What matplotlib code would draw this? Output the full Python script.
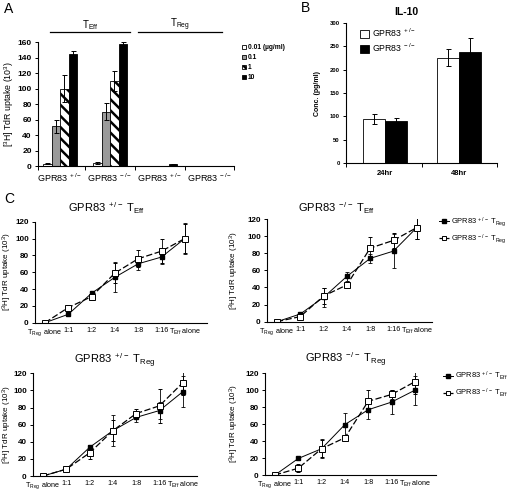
import numpy as np
import matplotlib.pyplot as plt
from matplotlib.lines import Line2D

plt.rcParams['font.family'] = ['Liberation Sans', 'DejaVu Sans']
plt.rcParams['mathtext.fontset'] = 'custom'
plt.rcParams['mathtext.rm'] = 'Liberation Sans'
plt.rcParams['mathtext.it'] = 'Liberation Sans:italic'
plt.rcParams['mathtext.bf'] = 'Liberation Sans:bold'
plt.rcParams['hatch.linewidth'] = 1.8
plt.rcParams['axes.linewidth'] = 0.8

# ---- panel A data
a_groups = [r'GPR83$^{\ +/-}$', r'GPR83$^{\ -/-}$', r'GPR83$^{\ +/-}$', r'GPR83$^{\ -/-}$']
a_doses = ['0.01 (µg/ml)', '0.1', '1', '10']
a_d001 = [3, 4, 0.4, 0.3]
a_d001_err = [1, 1, 0, 0]
a_d01 = [51, 70, 0.5, 0.3]
a_d01_err = [9, 11, 0, 0]
a_d1 = [100, 110, 0.6, 0.4]
a_d1_err = [17, 13, 0, 0]
a_d10 = [144, 157, 2, 0.5]
a_d10_err = [4, 3, 1, 0]

# ---- panel B data
b_times = ['24hr', '48hr']
b_het = [95, 226]
b_het_err = [11, 19]
b_ko = [89, 237]
b_ko_err = [7, 30]

# ---- panel C data
c_ratios = [r'T$_{\rm Reg}$ alone', '1:1', '1:2', '1:4', '1:8', '1:16', r'T$_{\rm Eff}$ alone']

c1_title = r'GPR83$^{\ +/-}$ T$_{\rm Eff}$'
c1_fill = [0, 10, 35, 54, 70, 78, 100]
c1_fill_err = [0.5, 2, 2, 18, 7, 8, 18]
c1_open = [0, 18, 31, 59, 76, 85, 100]
c1_open_err = [0.5, 3, 4, 12, 10, 14, 17]

c2_title = r'GPR83$^{\ -/-}$ T$_{\rm Eff}$'
c2_fill = [0, 9, 28.5, 53, 74, 82.5, 110]
c2_fill_err = [0.5, 2, 11, 5, 5, 20, 13]
c2_open = [0, 6, 30, 43, 86, 95, 110]
c2_open_err = [0.5, 2, 9, 3, 13, 8.5, 13]

c3_title = r'GPR83$^{\ +/-}$ T$_{\rm Reg}$'
c3_fill = [0, 8, 33.5, 53, 68.5, 76.5, 98.5]
c3_fill_err = [0.5, 1, 3, 18, 5, 10, 18]
c3_open = [0, 8, 27, 53, 73, 82, 109]
c3_open_err = [0.5, 1, 7, 12, 5, 20, 14]

c4_title = r'GPR83$^{\ -/-}$ T$_{\rm Reg}$'
c4_fill = [0, 19.5, 31, 59.5, 77, 86, 100]
c4_fill_err = [0.5, 2, 11, 14, 11, 14, 17]
c4_open = [0, 8, 31, 44, 87, 95, 110]
c4_open_err = [0.5, 5, 10, 3, 13, 5, 14]

W, H = 512, 490
fig = plt.figure(figsize=(W / 100, H / 100), dpi=100)


def px_axes(l, t, r, b):
    return fig.add_axes([l / W, 1 - b / H, (r - l) / W, (b - t) / H])


def style(ax, fs=5.5, bold=True):
    ax.spines['top'].set_visible(False)
    ax.spines['right'].set_visible(False)
    ax.tick_params(labelsize=fs, length=2.5, width=0.7, direction='out', pad=2)
    if bold:
        for t in ax.get_yticklabels():
            t.set_fontweight('bold')


ylab = r'[$^{3}$H] TdR uptake (10$^{3}$)'

# ================= A
axA = px_axes(38, 42, 234, 166)
x = np.arange(len(a_groups))
w = 0.17
ekw = dict(ecolor='black', elinewidth=0.7, capsize=1.8, capthick=0.7)
axA.bar(x - 1.5 * w, a_d001, w, yerr=a_d001_err, color='white', edgecolor='black', linewidth=0.6, error_kw=ekw, label=a_doses[0])
axA.bar(x - 0.5 * w, a_d01, w, yerr=a_d01_err, color='#9a9a9a', edgecolor='black', linewidth=0.6, error_kw=ekw, label=a_doses[1])
axA.bar(x + 0.5 * w, a_d1, w, yerr=a_d1_err, color='white', edgecolor='black', linewidth=0.6, hatch='\\\\\\', error_kw=ekw, label=a_doses[2])
axA.bar(x + 1.5 * w, a_d10, w, yerr=a_d10_err, color='black', edgecolor='black', linewidth=0.6, error_kw=ekw, label=a_doses[3])
axA.set_xlim(-0.44, 3.48)
axA.set_ylim(0, 160)
axA.set_yticks(range(0, 161, 20))
axA.set_xticks(x)
axA.set_xticklabels(a_groups, fontsize=6.5)
axA.set_xticks([-0.44, 0.5, 1.5, 2.5, 3.48], minor=True)
style(axA, 6)
axA.tick_params(axis='x', which='major', length=0, pad=4, labelsize=6.5)
axA.tick_params(axis='x', which='minor', length=3, width=0.7)
axA.set_ylabel(ylab, fontsize=6.3)
axA.yaxis.set_label_coords((16 - 38) / 196, 0.5)
axA.legend(loc='upper left', bbox_to_anchor=(1.01, 1.03), frameon=False,
           handlelength=0.6, handleheight=0.6, handletextpad=0.25, labelspacing=0.45,
           prop={'weight': 'bold', 'size': 4.8})

# T_Eff / T_Reg bracket lines
fig.add_artist(Line2D([50 / W, 130 / W], [1 - 32 / H, 1 - 32 / H], color='black', lw=0.9))
fig.add_artist(Line2D([138 / W, 222 / W], [1 - 32 / H, 1 - 32 / H], color='black', lw=0.9))
fig.text(90 / W, 1 - 25 / H, r'T$_{\rm Eff}$', fontsize=7, ha='center', va='center')
fig.text(180 / W, 1 - 25 / H, r'T$_{\rm Reg}$', fontsize=7, ha='center', va='center')

# ================= B
axB = px_axes(346, 23, 497, 163)
xb = np.arange(len(b_times))
wb = 0.30
axB.bar(xb - wb / 2, b_het, wb, yerr=b_het_err, color='white', edgecolor='black', linewidth=0.6,
        error_kw=ekw, label=r'GPR83$^{\ +/-}$')
axB.bar(xb + wb / 2, b_ko, wb, yerr=b_ko_err, color='black', edgecolor='black', linewidth=0.6,
        error_kw=ekw, label=r'GPR83$^{\ -/-}$')
axB.set_xlim(-0.53, 1.51)
axB.set_ylim(0, 300)
axB.set_yticks(range(0, 301, 50))
axB.set_xticks(xb)
axB.set_xticklabels(b_times, fontweight='bold', fontsize=5.5)
axB.set_xticks([-0.53, 0.5, 1.51], minor=True)
style(axB, 4.2)
axB.tick_params(axis='x', which='major', length=0, pad=5, labelsize=5.5)
axB.tick_params(axis='x', which='minor', length=3, width=0.7)
axB.set_ylabel('Conc. (pg/ml)', fontsize=5, fontweight='bold')
axB.yaxis.set_label_coords((321 - 346) / 151, 0.5)
axB.legend(loc='upper left', bbox_to_anchor=(0.04, 1.03), frameon=False, fontsize=6.3,
           handlelength=1.0, handleheight=0.9, handletextpad=0.4, labelspacing=0.3)
fig.text(406 / W, 1 - 12 / H, 'IL-10', fontsize=7.5, fontweight='bold', ha='center', va='center')

# ================= C
xc = np.arange(len(c_ratios))
sp = 23.3


def panel_c(box, title, title_xy, fill, fill_err, opn, opn_err, ylab_px, leg=None):
    l, t, r, b = box
    ax = px_axes(l, t, r, b)
    ax.errorbar(xc, fill, yerr=fill_err, color='black', lw=0.7, marker='s', ms=3.2,
                mfc='black', mec='black', elinewidth=0.6, capsize=1.5, capthick=0.6)
    ax.errorbar(xc, opn, yerr=opn_err, color='black', lw=0.9, ls=(0, (5, 2)), marker='s', ms=4,
                mfc='white', mec='black', mew=0.7, elinewidth=0.6, capsize=1.5, capthick=0.6)
    ax.set_xlim(-10 / sp, (r - l - 10) / sp)
    ax.set_ylim(0, 120)
    ax.set_yticks(range(0, 121, 20))
    ax.set_xticks(xc)
    ax.set_xticklabels(c_ratios)
    style(ax, 5.8)
    ax.tick_params(axis='x', labelsize=5.2, length=0, pad=3)
    fig.text(title_xy[0] / W, 1 - title_xy[1] / H, title, fontsize=8, ha='center', va='center')
    ax.set_ylabel(ylab, fontsize=5.8)
    ax.yaxis.set_label_coords((ylab_px - l) / (r - l), 0.5)
    if leg is not None:
        hs = [Line2D([], [], color='black', lw=0.7, marker='s', ms=2.8, mfc='black'),
              Line2D([], [], color='black', lw=0.9, ls=(0, (3, 2)), marker='s', ms=3.2, mfc='white', mew=0.7)]
        ax.legend(hs, leg, loc='upper left', bbox_to_anchor=(1.0, 1.1), frameon=False, fontsize=5.4,
                  handlelength=1.3, handletextpad=0.3, labelspacing=0.55)
    return ax


leg_reg = [r'GPR83$^{\ +/-}$ T$_{\rm Reg}$', r'GPR83$^{\ -/-}$ T$_{\rm Reg}$']
leg_eff = [r'GPR83$^{\ +/-}$ T$_{\rm Eff}$', r'GPR83$^{\ -/-}$ T$_{\rm Eff}$']
panel_c((35, 221.7, 207, 322.7), c1_title, (106, 208), c1_fill, c1_fill_err, c1_open, c1_open_err, 14)
panel_c((267, 219, 432, 321.7), c2_title, (336, 208), c2_fill, c2_fill_err, c2_open, c2_open_err, 241, leg_reg)
panel_c((33, 373.3, 197, 476), c3_title, (115, 361), c3_fill, c3_fill_err, c3_open, c3_open_err, 14)
panel_c((265, 373.3, 436, 475), c4_title, (346, 360), c4_fill, c4_fill_err, c4_open, c4_open_err, 241, leg_eff)

# panel letters
fig.text(4 / W, 1 - 9 / H, 'A', fontsize=10, ha='left', va='center')
fig.text(301 / W, 1 - 8 / H, 'B', fontsize=10, ha='left', va='center')
fig.text(4 / W, 1 - 199 / H, 'C', fontsize=10, ha='left', va='center')

fig.savefig('out.png', dpi=100)
